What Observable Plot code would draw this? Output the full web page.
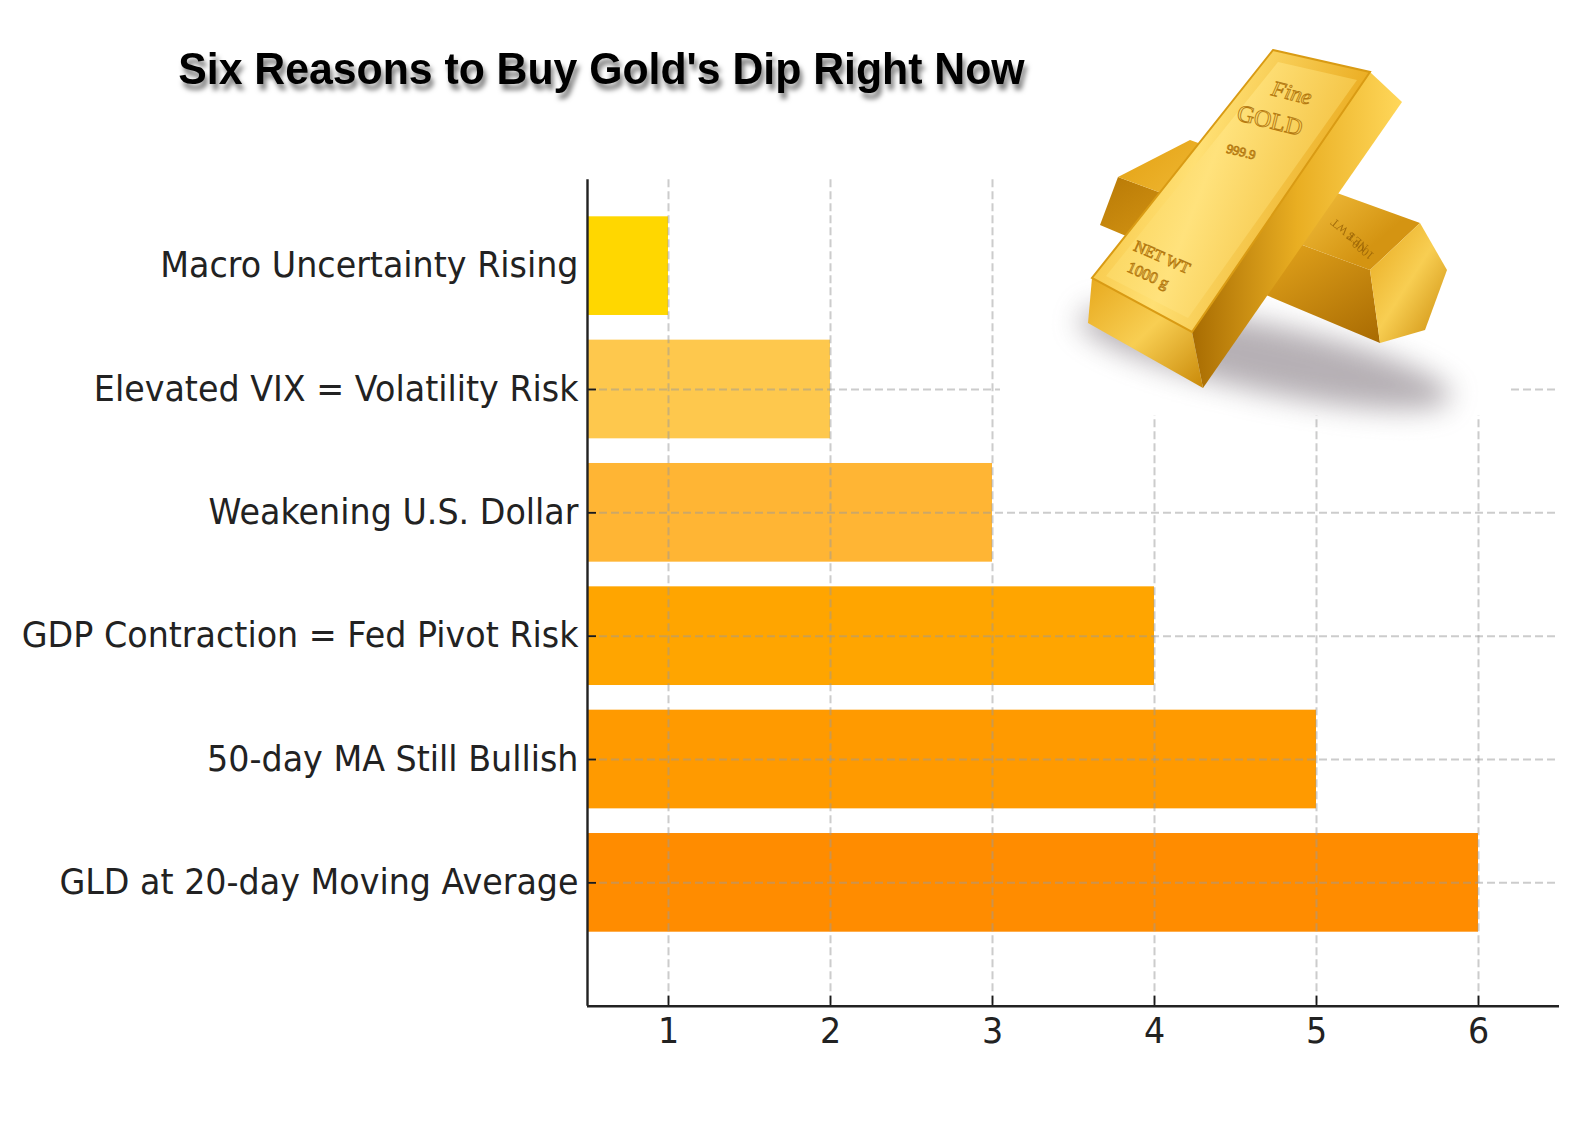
<!DOCTYPE html>
<html>
<head>
<meta charset="utf-8">
<script src="https://cdn.jsdelivr.net/npm/d3@7"></script>
<script src="https://cdn.jsdelivr.net/npm/@observablehq/plot@0.6"></script>
<style>
  html, body { margin: 0; padding: 0; background: #fff; }
  #wrap { position: relative; width: 1580px; height: 1133px; overflow: hidden; background: #fff; }
  #titlebox { position: relative; height: 150px; }
  #title { position: absolute; z-index: 3; top: 43px; left: 0; width: 1202px; text-align: center;
    font-family: "Liberation Sans", Arial, sans-serif; font-weight: bold; font-size: 45px; line-height: 52px;
    color: #000; text-shadow: 3px 6px 5px rgba(0,0,0,0.5); white-space: nowrap; }
  #title span { display: inline-block; transform: scaleX(0.95); }
  #art { position: absolute; left: 0; top: 0; z-index: 2; pointer-events: none; }
  #chart svg { display: block; }
</style>
</head>
<body>
<div id="wrap">
  <div id="titlebox"><div id="title"><span>Six Reasons to Buy Gold's Dip Right Now</span></div></div>
  <div id="chart"></div>
  <svg id="art" width="1580" height="1133" viewBox="0 0 1580 1133">
    <defs>
      <filter id="blur" x="-50%" y="-50%" width="200%" height="200%"><feGaussianBlur stdDeviation="14"/></filter>
      <linearGradient id="gTop" x1="0" y1="0" x2="1" y2="0.3">
        <stop offset="0" stop-color="#F2B92C"/>
        <stop offset="0.45" stop-color="#FFE074"/>
        <stop offset="1" stop-color="#E9A81A"/>
      </linearGradient>
      <linearGradient id="gTopIn" x1="0" y1="0" x2="1" y2="0.4">
        <stop offset="0" stop-color="#F7CB45"/>
        <stop offset="0.5" stop-color="#FFE27C"/>
        <stop offset="1" stop-color="#F2BE3A"/>
      </linearGradient>
      <linearGradient id="gSide" x1="0" y1="0" x2="1" y2="0">
        <stop offset="0" stop-color="#A86C02"/>
        <stop offset="0.5" stop-color="#E9AE22"/>
        <stop offset="1" stop-color="#FFD75A"/>
      </linearGradient>
      <linearGradient id="gEnd" x1="0" y1="0" x2="1" y2="1">
        <stop offset="0" stop-color="#E7A91E"/>
        <stop offset="0.5" stop-color="#F8CE52"/>
        <stop offset="1" stop-color="#C98908"/>
      </linearGradient>
      <linearGradient id="gBack" x1="0" y1="0" x2="1" y2="0.5">
        <stop offset="0" stop-color="#E3A114"/>
        <stop offset="0.6" stop-color="#F6C443"/>
        <stop offset="1" stop-color="#D49412"/>
      </linearGradient>
      <linearGradient id="gBackSide" x1="0" y1="0" x2="1" y2="1">
        <stop offset="0" stop-color="#B97A06"/>
        <stop offset="0.5" stop-color="#E3A41C"/>
        <stop offset="1" stop-color="#A86A02"/>
      </linearGradient>
    </defs>
    <rect x="1000" y="28" width="510" height="387" fill="#fff"/>
    <ellipse cx="1265" cy="358" rx="190" ry="34" transform="rotate(12 1265 358)" fill="#7a7078" opacity="0.55" filter="url(#blur)"/>
    <!-- back bar -->
    <polygon points="1100,225 1118,177 1370,270 1380,343" fill="url(#gBackSide)"/>
    <polygon points="1118,177 1190,140 1420,223 1370,270" fill="url(#gBack)"/>
    <polygon points="1370,270 1420,223 1447,270 1425,330 1380,343" fill="url(#gEnd)"/>
    <text x="1352" y="232" transform="rotate(-140 1352 232)" font-family="Liberation Serif" font-size="12" fill="#9a6406" opacity="0.85" text-anchor="middle">NET WT</text>
    <text x="1362" y="244" transform="rotate(-140 1362 244)" font-family="Liberation Serif" font-size="12" fill="#9a6406" opacity="0.85" text-anchor="middle">1000 g</text>
    <!-- front bar -->
    <polygon points="1370,72 1402,102 1203,388 1192,332" fill="url(#gSide)"/>
    <polygon points="1092,278 1192,332 1203,388 1088,323" fill="url(#gEnd)"/>
    <polygon points="1273,50 1370,72 1192,332 1092,278" fill="url(#gTop)" stroke="#D99B14" stroke-width="2"/>
    <polygon points="1278,62 1357,80 1188,318 1106,276" fill="url(#gTopIn)"/>
    <g font-family="Liberation Serif" fill="none" stroke="#B57A10" stroke-width="0.9" text-anchor="middle">
      <text x="1290" y="100" font-size="22" font-style="italic" transform="rotate(14 1290 100)">Fine</text>
      <text x="1268" y="128" font-size="24" transform="rotate(14 1268 128)">GOLD</text>
      <text x="1240" y="156" font-size="13" transform="rotate(14 1240 156)">999.9</text>
      <text x="1160" y="262" font-size="16" transform="rotate(24 1160 262)">NET WT</text>
      <text x="1146" y="280" font-size="16" transform="rotate(24 1146 280)">1000 g</text>
    </g>
  </svg>
</div>
<script>
const categories = [
  "GLD at 20-day Moving Average",
  "50-day MA Still Bullish",
  "GDP Contraction = Fed Pivot Risk",
  "Weakening U.S. Dollar",
  "Elevated VIX = Volatility Risk",
  "Macro Uncertainty Rising"
];
const values = [6, 5, 4, 3, 2, 1];
const colors = ["#FF8C00", "#FF9A00", "#FFA500", "#FFB534", "#FEC84D", "#FFD700"];
const xTicks = [1, 2, 3, 4, 5, 6];
const yLabelIdx = [0, 1, 2, 3, 4, 5];
const yTickIdx = [0, 1, 2, 3, 4];

const data = categories.map((c, i) => ({c, i, v: values[i], color: colors[i]}));

const W = 1580, H = 983, mL = 587, mR = 21, mT = 29.3, mB = 127.3;
const xDom = [0.5, 6.5], yDom = [-1, 5.7];
const tickLenX = 9 * (xDom[1] - xDom[0]) / (W - mL - mR);
const tickLenY = 10 * (yDom[1] - yDom[0]) / (H - mT - mB);
const gridStyle = {stroke: "#999", strokeOpacity: 0.5, strokeWidth: 2, strokeDasharray: "8,4"};

const chart = Plot.plot({
  width: W, height: H,
  marginLeft: mL, marginRight: mR, marginTop: mT, marginBottom: mB,
  x: {domain: xDom},
  y: {domain: yDom},
  color: {type: "identity"},
  style: {fontFamily: "DejaVu Sans", fontSize: "35px", color: "#222", background: "transparent", overflow: "visible"},
  marks: [
    Plot.rect(data, {x1: 0, x2: "v", y1: d => d.i - 0.4, y2: d => d.i + 0.4, fill: d => d.color, clip: true}),
    Plot.gridX(xTicks, gridStyle),
    Plot.gridY(yTickIdx, gridStyle),
    Plot.ruleY(yTickIdx, {y: d => d, x1: xDom[0], x2: xDom[0] + tickLenX, stroke: "#1a1a1a", strokeWidth: 1.8}),
    Plot.ruleX(xTicks, {x: d => d, y1: yDom[0], y2: yDom[0] + tickLenY, stroke: "#1a1a1a", strokeWidth: 1.8}),
    Plot.ruleX([xDom[0]], {stroke: "#222", strokeWidth: 2.4}),
    Plot.ruleY([yDom[0]], {stroke: "#222", strokeWidth: 2.4}),
    Plot.axisX(xTicks, {tickSize: 0, tickPadding: 12, fontSize: 35, label: null, fill: "#222", tickFormat: d => String(d)}),
    Plot.axisY(yLabelIdx, {tickSize: 0, tickPadding: 9, fontSize: 35, label: null, tickFormat: i => categories[i], fill: "#222"})
  ]
});
document.getElementById("chart").appendChild(chart);
chart.querySelectorAll('g[aria-label$="tick label"] text').forEach(t => {
  const x = parseFloat(t.getAttribute("x")) || 0;
  const tr = t.getAttribute("transform") || "";
  t.setAttribute("transform", `${tr} translate(${x},0) scale(0.953,1) translate(${-x},0)`);
});
</script>
</body>
</html>
